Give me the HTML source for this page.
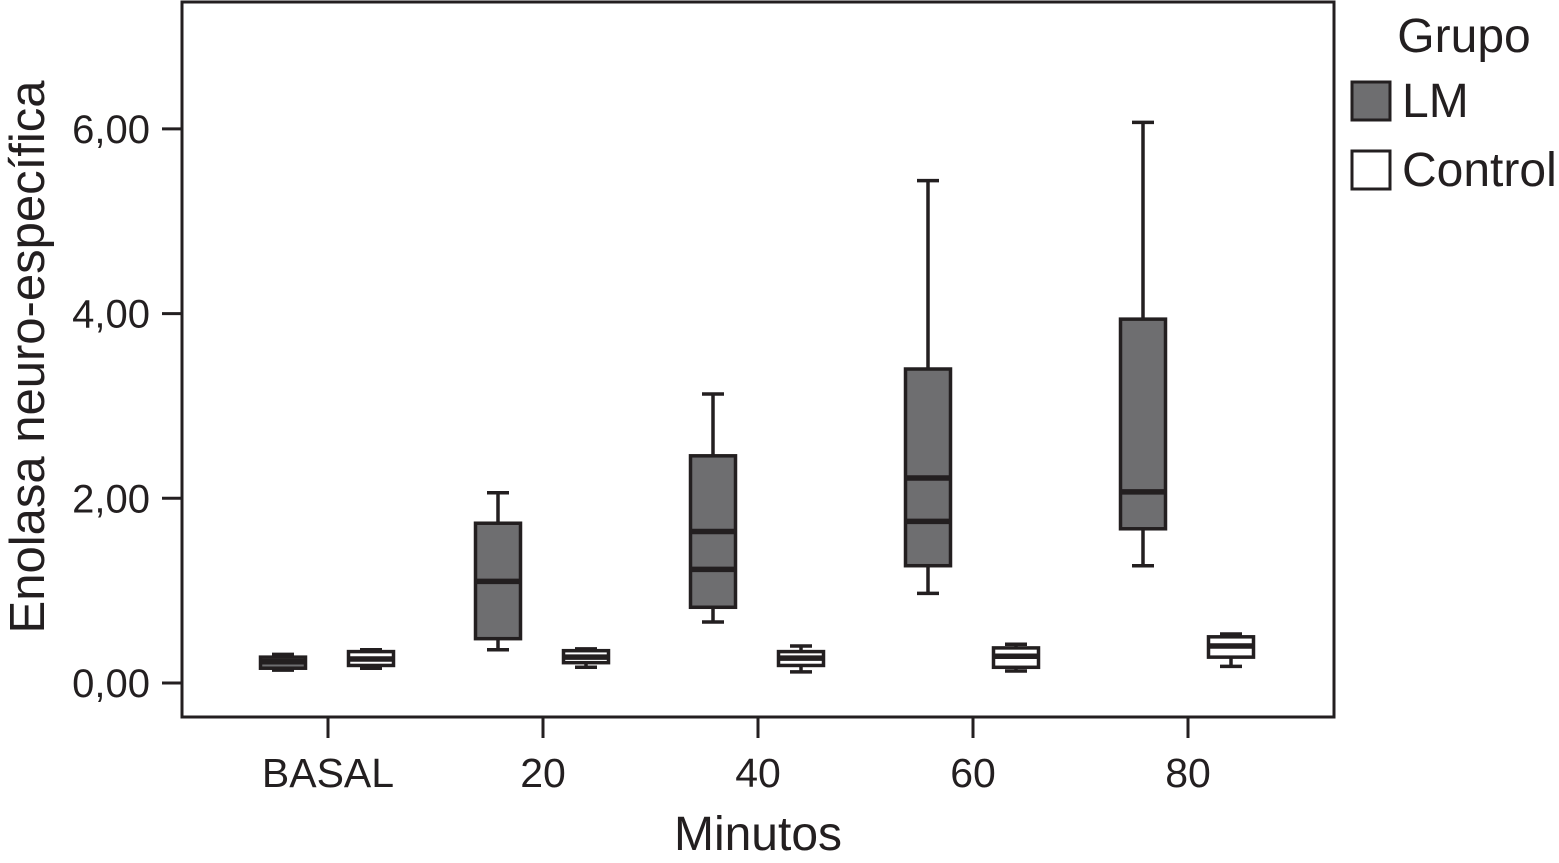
<!DOCTYPE html>
<html><head><meta charset="utf-8"><style>
html,body{margin:0;padding:0;background:#fff;}
svg{display:block;font-family:"Liberation Sans",Arial,sans-serif;}
</style></head><body>
<svg id="chart" width="1559" height="863" viewBox="0 0 1559 863">
<rect x="182" y="2" width="1152" height="715" fill="none" stroke="#231f20" stroke-width="3"/>
<g id="axes"></g>
<g id="boxes"></g>
<text x="28" y="357" transform="rotate(-90 28 357)" text-anchor="middle" dominant-baseline="central" font-size="49" fill="#231f20">Enolasa neuro-específica</text>
<text x="758" y="850" text-anchor="middle" font-size="48" fill="#231f20">Minutos</text>
<g>
<text x="1464" y="52" text-anchor="middle" font-size="48" fill="#231f20">Grupo</text>
<g>
<rect x="1352" y="82" width="38" height="38" fill="#6e6e70" stroke="#231f20" stroke-width="3"/>
<text x="1402" y="117" font-size="48" fill="#231f20">LM</text></g>
<g>
<rect x="1352" y="151" width="38" height="38" fill="#fff" stroke="#231f20" stroke-width="3"/>
<text x="1402" y="186" font-size="48" fill="#231f20">Control</text></g>
</g>
</svg>
<script>
const categories = ["BASAL","20","40","60","80"];
const lmMin = [0.14,0.36,0.66,0.97,1.27];
const lmQ1 = [0.16,0.48,0.82,1.27,1.67];
const lmMedian = [0.23,1.10,1.64,2.22,2.07];
const lmLine2 = [null,null,1.23,1.75,null];
const lmQ3 = [0.28,1.73,2.46,3.40,3.94];
const lmMax = [0.31,2.06,3.13,5.44,6.07];
const ctMin = [0.16,0.17,0.12,0.13,0.18];
const ctQ1 = [0.19,0.22,0.19,0.17,0.28];
const ctMedian = [0.26,0.28,0.27,0.29,0.40];
const ctQ3 = [0.34,0.35,0.34,0.38,0.50];
const ctMax = [0.36,0.37,0.40,0.42,0.53];
const yTicks = [0,2,4,6];
const yTickLabels = ["0,00","2,00","4,00","6,00"];

const NS="http://www.w3.org/2000/svg";
const y = v => 683 - v*92.35;
const x = i => 328 + i*215;
function mk(tag, attrs, parent){const e=document.createElementNS(NS,tag);for(const k in attrs)e.setAttribute(k,attrs[k]);parent.appendChild(e);return e;}
const axes=document.getElementById('axes'), boxes=document.getElementById('boxes');
const ink="#231f20";
yTicks.forEach((t,i)=>{
  const l=mk('line',{x1:162,x2:182,y1:y(t),y2:y(t),stroke:ink,'stroke-width':3},axes);
  
  
  const tx=mk('text',{x:150,y:y(t)+14,'text-anchor':'end','font-size':40,fill:ink},axes);
  tx.textContent=yTickLabels[i];
  
  
});
categories.forEach((c,i)=>{
  const l=mk('line',{x1:x(i),x2:x(i),y1:717,y2:738,stroke:ink,'stroke-width':3},axes);
  
  
  const tx=mk('text',{x:x(i),y:787,'text-anchor':'middle','font-size':41,fill:ink},axes);
  tx.textContent=c;
  
  
});
function box(cx,mn,q1,md,m2,q3,mx,fill,name){
  const g=mk('g',{},boxes);
  
  
  const w=45;
  mk('line',{x1:cx,x2:cx,y1:y(mx),y2:y(mn),stroke:ink,'stroke-width':3.5},g);
  mk('line',{x1:cx-11,x2:cx+11,y1:y(mx),y2:y(mx),stroke:ink,'stroke-width':3.5},g);
  mk('line',{x1:cx-11,x2:cx+11,y1:y(mn),y2:y(mn),stroke:ink,'stroke-width':3.5},g);
  mk('rect',{x:cx-w/2,y:y(q3),width:w,height:y(q1)-y(q3),fill:fill,stroke:ink,'stroke-width':3.5},g);
  mk('line',{x1:cx-w/2,x2:cx+w/2,y1:y(md),y2:y(md),stroke:ink,'stroke-width':5.5},g);
  if(m2!=null) mk('line',{x1:cx-w/2,x2:cx+w/2,y1:y(m2),y2:y(m2),stroke:ink,'stroke-width':5.5},g);
}
categories.forEach((c,i)=>{
  box(x(i)-45,lmMin[i],lmQ1[i],lmMedian[i],lmLine2[i],lmQ3[i],lmMax[i],"#6e6e70","box-lm-"+c.toLowerCase());
  box(x(i)+43,ctMin[i],ctQ1[i],ctMedian[i],null,ctQ3[i],ctMax[i],"#fff","box-control-"+c.toLowerCase());
});
</script>
</body></html>
